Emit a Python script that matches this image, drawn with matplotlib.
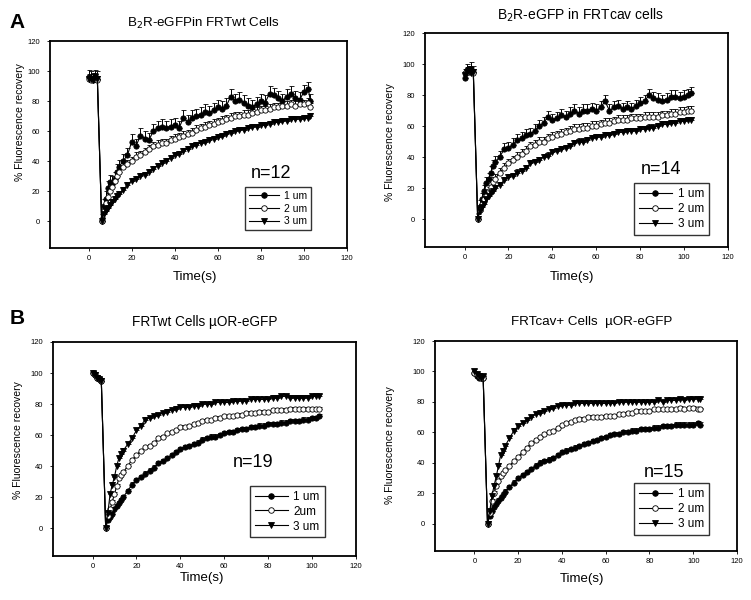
import matplotlib
matplotlib.use('Agg')
import matplotlib.pyplot as plt
from matplotlib.lines import Line2D
import numpy as np

plt.rcParams['font.family'] = ['Liberation Sans', 'DejaVu Sans']

#time points (s), shared by all traces
t = [0, 1, 2, 3, 4,
     6, 7, 8, 9, 10, 11, 12, 13, 14,
     16, 18, 20, 22, 24, 26, 28, 30, 32, 34,
     36, 38, 40, 42, 44, 46, 48, 50, 52, 54,
     56, 58, 60, 62, 64, 66, 68, 70, 72, 74,
     76, 78, 80, 82, 84, 86, 88, 90, 92, 94,
     96, 98, 100, 102, 103]

#A left: B2R-eGFP in FRTwt cells
wt_b2r_1um = [96, 95, 94, 96, 95,
              0, 10, 15, 22, 26, 25, 28, 33, 36,
              40, 44, 53, 50, 57, 55, 54, 60, 62, 63,
              62, 63, 64, 62, 69, 66, 69, 70, 71, 73,
              72, 74, 76, 75, 77, 83, 80, 81, 79, 77,
              76, 78, 80, 79, 85, 84, 82, 80, 83, 85,
              82, 81, 86, 88, 80]
wt_b2r_2um = [95, 94, 95, 96, 94,
              0, 7, 12, 16, 20, 23, 27, 30, 33,
              36, 38, 40, 43, 44, 46, 48, 50, 51, 52,
              52, 54, 55, 56, 57, 58, 59, 61, 62, 63,
              64, 65, 66, 67, 68, 69, 70, 70, 71, 71,
              72, 73, 74, 74, 75, 76, 76, 77, 77, 78,
              77, 78, 78, 79, 76]
wt_b2r_3um = [95, 95, 94, 96, 95,
              0, 5, 7, 9, 11, 13, 15, 17, 18,
              21, 24, 27, 28, 30, 31, 33, 35, 37, 39,
              40, 42, 44, 45, 47, 48, 50, 51, 52, 53,
              54, 55, 56, 57, 58, 59, 60, 61, 61, 62,
              63, 63, 64, 64, 65, 66, 66, 67, 67, 68,
              68, 68, 69, 69, 70]
wt_b2r_err = [5, 3, 2]

#A right: B2R-eGFP in FRTcav cells
cav_b2r_1um = [91, 96, 95, 97, 95,
               0, 8, 13, 18, 23, 26, 30, 34, 37,
               40, 45, 46, 48, 51, 52, 54, 55, 57, 60,
               62, 66, 64, 65, 67, 66, 68, 70, 68, 70,
               70, 71, 70, 72, 76, 70, 72, 73, 71, 72,
               71, 73, 75, 76, 80, 78, 77, 76, 77, 79,
               79, 78, 79, 80, 81]
cav_b2r_2um = [94, 95, 96, 95, 94,
               0, 6, 10, 13, 15, 18, 21, 24, 26,
               30, 33, 36, 38, 40, 42, 44, 47, 48, 50,
               50, 52, 53, 54, 55, 56, 57, 58, 58, 59,
               59, 60, 60, 61, 62, 62, 63, 64, 64, 64,
               65, 65, 65, 66, 66, 66, 66, 67, 67, 68,
               68, 69, 69, 70, 70]
cav_b2r_3um = [93, 95, 96, 94, 95,
               0, 5, 8, 10, 13, 15, 17, 18, 20,
               22, 25, 27, 28, 30, 31, 33, 36, 37, 38,
               40, 41, 43, 44, 45, 46, 47, 49, 50, 50,
               51, 52, 53, 53, 54, 54, 55, 56, 56, 57,
               57, 57, 58, 58, 59, 59, 60, 61, 61, 62,
               62, 63, 63, 64, 64]
cav_b2r_err = [4, 3, 2]

#B left: FRTwt cells muOR-eGFP
wt_mor_1um = [100, 99, 97, 96, 95,
              0, 5, 7, 9, 12, 14, 16, 18, 20,
              24, 28, 31, 33, 35, 37, 39, 42, 43, 45,
              47, 49, 51, 52, 53, 54, 55, 57, 58, 59,
              59, 60, 61, 62, 62, 63, 64, 64, 65, 65,
              66, 66, 67, 67, 67, 68, 68, 69, 69, 69,
              70, 70, 71, 71, 72]
wt_mor_2um = [100, 99, 97, 96, 95,
              0, 8, 12, 17, 22, 27, 32, 34, 36,
              40, 44, 47, 50, 52, 53, 55, 58, 59, 61,
              62, 63, 65, 65, 66, 67, 68, 69, 70, 70,
              71, 71, 72, 72, 72, 73, 73, 74, 74, 74,
              75, 75, 75, 76, 76, 76, 76, 77, 77, 77,
              77, 77, 77, 77, 77]
wt_mor_3um = [100, 99, 97, 96, 95,
              0, 10, 22, 28, 33, 40, 45, 48, 50,
              54, 58, 63, 66, 70, 71, 72, 73, 74, 75,
              76, 77, 78, 78, 78, 79, 79, 80, 80, 80,
              81, 81, 81, 81, 82, 82, 82, 82, 83, 83,
              83, 83, 83, 84, 84, 85, 85, 84, 84, 84,
              84, 84, 85, 85, 85]
wt_mor_err = [1.5, 1.2, 1.5]

#B right: FRTcav+ cells muOR-eGFP
cav_mor_1um = [99, 97, 96, 97, 96,
               0, 5, 8, 11, 13, 15, 17, 19, 21,
               24, 27, 30, 32, 34, 36, 38, 40, 41, 42,
               43, 45, 47, 48, 49, 50, 51, 52, 53, 54,
               55, 56, 57, 58, 59, 59, 60, 60, 61, 61,
               62, 62, 62, 63, 63, 64, 64, 64, 65, 65,
               65, 65, 65, 66, 65]
cav_mor_2um = [99, 98, 97, 96, 96,
               0, 7, 15, 20, 25, 28, 31, 33, 35,
               38, 41, 44, 47, 50, 53, 55, 57, 59, 60,
               61, 63, 65, 66, 67, 68, 69, 69, 70, 70,
               70, 70, 71, 71, 71, 72, 72, 73, 73, 74,
               74, 74, 74, 75, 75, 75, 75, 75, 75, 76,
               75, 76, 76, 75, 75]
cav_mor_3um = [100, 98, 97, 96, 97,
               0, 8, 18, 25, 31, 38, 45, 48, 51,
               56, 61, 64, 66, 68, 70, 72, 73, 74, 75,
               76, 77, 78, 78, 78, 79, 79, 79, 79, 79,
               79, 79, 79, 79, 79, 80, 80, 80, 80, 80,
               80, 80, 80, 80, 81, 80, 81, 81, 81, 82,
               81, 82, 82, 82, 82]
cav_mor_err = [1.5, 1.2, 1.5]

W, H = 751, 600
fig = plt.figure(figsize=(W / 100, H / 100), dpi=100)

styles = [dict(marker='o', mfc='black'),
          dict(marker='o', mfc='white'),
          dict(marker='v', mfc='black')]


def add_ax(left, top, right, bottom):
    return fig.add_axes([left / W, 1 - bottom / H, (right - left) / W, (bottom - top) / H])


def draw_panel(box, series, errs, labels, leg_anchor, leg_size, n_text, n_pos):
    ax = add_ax(*box)
    zeros = np.zeros(len(t))
    for s, e, st in zip(series, errs, styles):
        ax.errorbar(t, s, yerr=[zeros, np.full(len(t), e)], color='black', lw=0.8,
                    ms=3.8, mec='black', mew=0.6, elinewidth=0.7, capsize=1.8,
                    capthick=0.7, **st)
    ax.set_xlim(-18, 120)
    ax.set_ylim(-18, 120)
    ax.set_xticks(range(0, 121, 20))
    ax.set_yticks(range(0, 121, 20))
    ax.tick_params(labelsize=5.5, length=2, width=0.6)
    ax.tick_params(axis='x', pad=3)
    ax.tick_params(axis='y', pad=5)
    for sp in ax.spines.values():
        sp.set_linewidth(1.3)
    handles = [Line2D([], [], color='black', lw=0.8, ms=4, mec='black', mew=0.6, **st)
               for st in styles]
    leg = ax.legend(handles, labels, loc='lower left', bbox_to_anchor=leg_anchor,
                    fontsize=leg_size, frameon=True, fancybox=False, edgecolor='black',
                    handlelength=2.8, borderpad=0.4, labelspacing=0.25,
                    handletextpad=0.5, numpoints=1)
    leg.get_frame().set_linewidth(1.0)
    ax.text(n_pos[0], n_pos[1], n_text, transform=ax.transAxes, fontsize=13,
            ha='center', va='center')
    return ax


draw_panel((50, 41, 347, 248), [wt_b2r_1um, wt_b2r_2um, wt_b2r_3um], wt_b2r_err,
           ['1 um', '2 um', '3 um'], (0.64, 0.06), 7.5, 'n=12', (0.745, 0.36))
draw_panel((425, 33, 728, 247), [cav_b2r_1um, cav_b2r_2um, cav_b2r_3um], cav_b2r_err,
           ['1 um', '2 um', '3 um'], (0.67, 0.03), 8.5, 'n=14', (0.78, 0.36))
draw_panel((53, 342, 356, 556), [wt_mor_1um, wt_mor_2um, wt_mor_3um], wt_mor_err,
           ['1 um', '2um', '3 um'], (0.63, 0.06), 8.5, 'n=19', (0.66, 0.435))
draw_panel((435, 341, 737, 551), [cav_mor_1um, cav_mor_2um, cav_mor_3um], cav_mor_err,
           ['1 um', '2 um', '3 um'], (0.64, 0.05), 8.5, 'n=15', (0.76, 0.376))

#titles, axis labels and panel letters
def ftext(x, y, s, **kw):
    fig.text(x / W, 1 - y / H, s, ha='center', va='center', **kw)

ftext(203, 23, 'B$_2$R-eGFPin FRTwt Cells', fontsize=9.6)
ftext(580, 15, 'B$_2$R-eGFP in FRTcav cells', fontsize=10)
ftext(205, 322, 'FRTwt Cells \u00b5OR-eGFP', fontsize=9.8)
ftext(592, 322, 'FRTcav+ Cells  \u00b5OR-eGFP', fontsize=9.6)

ftext(20, 122, '% Fluorescence recovery', fontsize=7.5, rotation=90)
ftext(390, 142, '% Fluorescence recovery', fontsize=7.5, rotation=90)
ftext(18, 440, '% Fluorescence recovery', fontsize=7.5, rotation=90)
ftext(390, 445, '% Fluorescence recovery', fontsize=7.5, rotation=90)

ftext(195, 277, 'Time(s)', fontsize=9.5)
ftext(572, 277, 'Time(s)', fontsize=9.5)
ftext(202, 578, 'Time(s)', fontsize=9.5)
ftext(582, 579, 'Time(s)', fontsize=9.5)

ftext(17, 23, 'A', fontsize=15, fontweight='bold')
ftext(17, 318, 'B', fontsize=15, fontweight='bold')

fig.savefig('out.png', dpi=100)
